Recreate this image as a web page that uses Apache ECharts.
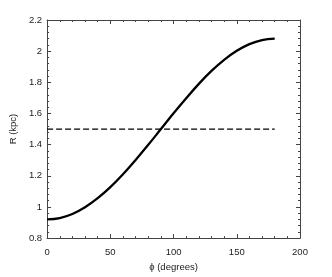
<!DOCTYPE html>
<html><head><meta charset="utf-8">
<script src="https://cdn.jsdelivr.net/npm/echarts@6/dist/echarts.min.js"></script>
<style>html,body{margin:0;padding:0;background:#fff}#c{width:332px;height:277px}</style>
</head><body><div id="c"></div>
<script>
const phi = [0,10,20,30,40,50,60,70,80,90,100,110,120,130,140,150,160,170,180];
const R = [0.92,0.929,0.955,0.998,1.056,1.127,1.21,1.302,1.399,1.5,1.601,1.698,1.79,1.873,1.944,2.002,2.045,2.071,2.08];
const refPhi = [0,180];
const refR = [1.5,1.5];
const xTicks = [0,50,100,150,200];
const yTicks = [0.8,1,1.2,1.4,1.6,1.8,2,2.2];

const font = 'Liberation Sans';
const fs = 9.5;
function ax(){return {
  axisLine:{show:true,onZero:false,lineStyle:{color:'#444',width:1}},
  axisTick:{show:true,inside:true,length:4,lineStyle:{color:'#444'}},
  minorTick:{show:true,splitNumber:5,length:2,lineStyle:{color:'#444'}},
  splitLine:{show:false}
};}
const chart = echarts.init(document.getElementById('c'));
chart.setOption({
  animation:false,
  grid:{left:43,top:20,right:32,bottom:35.5},
  xAxis:[
    Object.assign({type:'value',min:xTicks[0],max:xTicks[xTicks.length-1],interval:50,position:'bottom',
      name:'\u03d5 (degrees)',nameLocation:'middle',nameGap:20,
      nameTextStyle:{fontFamily:font,fontSize:fs,color:'#222'},
      axisLabel:{fontFamily:font,fontSize:fs,color:'#222',margin:9}},ax()),
    Object.assign({type:'value',min:xTicks[0],max:xTicks[xTicks.length-1],interval:50,position:'top',
      axisLabel:{show:false}},ax())
  ],
  yAxis:[
    Object.assign({type:'value',min:yTicks[0],max:yTicks[yTicks.length-1],interval:0.2,position:'left',
      name:'R (kpc)',nameLocation:'middle',nameGap:20,
      nameTextStyle:{fontFamily:font,fontSize:fs,color:'#222'},
      axisLabel:{fontFamily:font,fontSize:fs,color:'#222',margin:5,formatter:v=>String(+v.toFixed(1))}},ax()),
    Object.assign({type:'value',min:yTicks[0],max:yTicks[yTicks.length-1],interval:0.2,position:'right',
      axisLabel:{show:false}},ax())
  ],
  series:[
    {type:'line',data:phi.map((p,i)=>[p,R[i]]),smooth:0.4,symbol:'none',
     lineStyle:{color:'#000',width:2.3}},
    {type:'line',data:refPhi.map((p,i)=>[p,refR[i]]),symbol:'none',
     lineStyle:{color:'#000',width:1.2,type:[6,3]}}
  ]
});
</script></body></html>
